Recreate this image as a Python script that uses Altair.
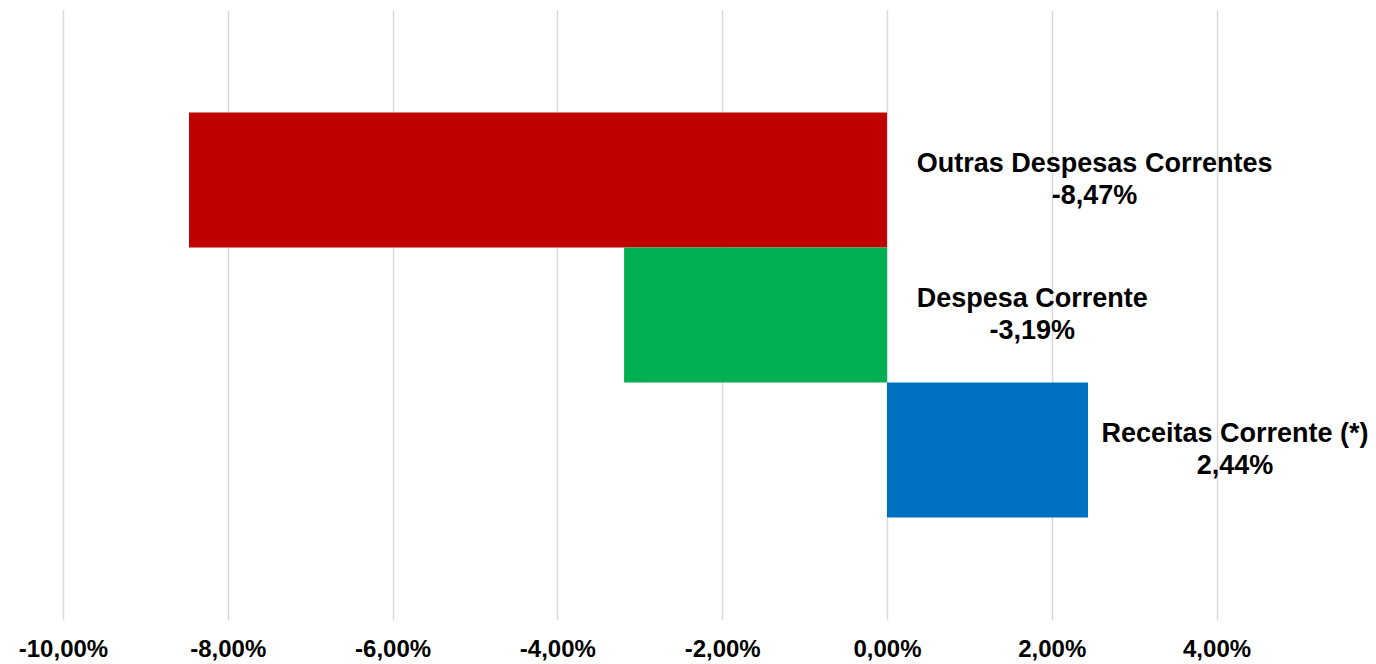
import altair as alt
import pandas as pd

categories = ["Outras Despesas Correntes", "Despesa Corrente", "Receitas Corrente (*)"]
values = [-8.47, -3.19, 2.44]
colors = ["#C00000", "#00B050", "#0070C0"]
tick_values = [-10, -8, -6, -4, -2, 0, 2, 4]

df = pd.DataFrame({"categoria": categories, "valor": values, "cor": colors})

X_MIN, X_MAX = -10.667, 5.838
FONT = "Liberation Sans"

x_scale = alt.Scale(domain=[X_MIN, X_MAX], nice=False, zero=False)
y_scale = alt.Scale(domain=categories, paddingInner=0, paddingOuter=0.76)

pct_expr = "replace(replace(format(datum.value, '.2f'), '.', ','), '\u2212', '-') + '%'"

bars = alt.Chart(df).mark_bar().encode(
    x=alt.X(
        "valor:Q",
        scale=x_scale,
        axis=alt.Axis(
            values=tick_values,
            labelExpr=pct_expr,
            grid=True,
            gridColor="#d9d9d9",
            gridWidth=1.5,
            domain=False,
            ticks=False,
            title=None,
            labelFont=FONT,
            labelFontSize=24,
            labelFontWeight="bold",
            labelColor="black",
            labelPadding=17,
        ),
    ),
    x2=alt.datum(0),
    y=alt.Y("categoria:N", sort=categories, scale=y_scale, axis=None),
    color=alt.Color("cor:N", scale=None),
)

labels = alt.Chart(df).transform_calculate(
    rotulo="datum.categoria + '\\n' + replace(replace(format(datum.valor, '.2f'), '.', ','), '\u2212', '-') + '%'",
    lx=f"min(max(datum.valor, 0) + 0.42 + 0.084 * length(datum.categoria), {X_MAX} - 0.084 * length(datum.categoria) + 0.15)",
).mark_text(
    align="center",
    baseline="middle",
    lineBreak="\n",
    lineHeight=32,
    dy=-16,
    font=FONT,
    fontSize=27,
    fontWeight="bold",
    color="black",
).encode(
    x=alt.X("lx:Q", scale=x_scale),
    y=alt.Y("categoria:N", sort=categories, scale=y_scale),
    text="rotulo:N",
)

chart = alt.layer(bars, labels).properties(
    width=1360,
    height=610,
    autosize=alt.AutoSizeParams(type="none"),
    padding={"left": 0, "top": 2, "right": 0, "bottom": 44},
).configure_view(stroke=None)

chart.save("out.html", embed_options={"renderer": "svg", "actions": False})
